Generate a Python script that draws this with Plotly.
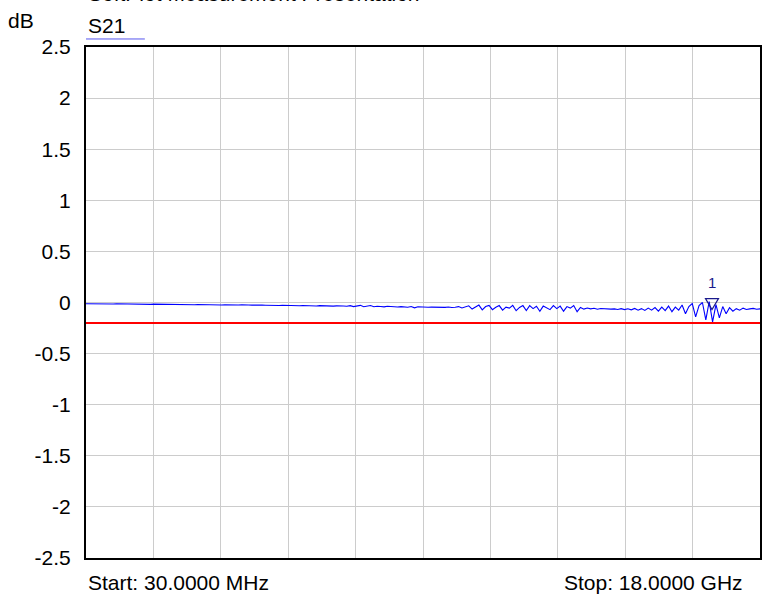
import numpy as np
import plotly.graph_objects as go

# ---- data ----
start_mhz = 30.0
stop_mhz = 18000.0
n_points = 200

s21_db = [
    -0.012,-0.013,-0.011,-0.012,-0.013,-0.012,-0.011,-0.013,-0.014,-0.012,
    -0.013,-0.015,-0.014,-0.016,-0.014,-0.015,-0.017,-0.015,-0.016,-0.018,
    -0.016,-0.017,-0.015,-0.018,-0.019,-0.017,-0.018,-0.020,-0.018,-0.021,
    -0.019,-0.020,-0.022,-0.020,
    -0.021,-0.023,-0.020,-0.024,-0.022,-0.021,-0.025,-0.022,-0.024,-0.023,
    -0.026,-0.024,-0.022,-0.027,-0.025,-0.026,-0.024,-0.028,-0.026,-0.027,
    -0.029,-0.026,-0.028,-0.030,-0.027,-0.029,-0.031,-0.028,-0.030,-0.032,
    -0.029,-0.031,-0.033,
    -0.030,-0.034,-0.031,-0.033,-0.036,-0.032,-0.035,-0.033,-0.037,-0.034,
    -0.036,-0.031,-0.040,-0.033,-0.028,-0.042,-0.035,-0.030,-0.041,-0.036,
    -0.039,-0.043,-0.037,-0.040,-0.038,-0.044,-0.040,-0.042,-0.046,-0.039,
    -0.052,-0.041,-0.045,
    -0.044,-0.046,-0.045,-0.047,-0.046,-0.045,-0.048,-0.044,-0.049,-0.046,
    -0.040,-0.054,-0.045,-0.032,-0.064,-0.044,-0.025,-0.072,-0.040,-0.028,
    -0.070,-0.047,-0.030,-0.075,-0.045,-0.055,-0.028,-0.080,-0.048,-0.030,
    -0.078,-0.030,-0.060,-0.036,-0.085,-0.035,
    -0.050,-0.070,-0.030,-0.060,-0.035,-0.085,-0.040,-0.055,-0.030,-0.090,
    -0.049,-0.065,-0.054,-0.062,-0.057,-0.066,-0.059,-0.063,-0.061,-0.065,
    -0.062,-0.068,-0.060,-0.070,-0.062,-0.072,-0.058,-0.075,-0.060,-0.078,
    -0.055,-0.075,-0.050,
    -0.085,-0.045,-0.080,-0.035,-0.090,-0.045,-0.075,-0.025,-0.110,-0.040,
    -0.010,-0.140,-0.030,0.000,-0.170,0.010,-0.190,-0.020,-0.150,-0.040,
    -0.110,-0.050,-0.085,-0.060,-0.075,-0.055,-0.068,-0.062,-0.058,-0.066,
    -0.062,
]

limit_db = -0.2
marker_freq_mhz = 16720.0
marker_db = -0.07
marker_label = "1"

y_tickvals = [2.5, 2, 1.5, 1, 0.5, 0, -0.5, -1, -1.5, -2, -2.5]
y_ticktext = ["2.5", "2", "1.5", "1", "0.5", "0", "-0.5", "-1", "-1.5", "-2", "-2.5"]
n_x_div = 10

freqs = np.linspace(start_mhz, stop_mhz, n_points)
x_grid = [start_mhz + k * (stop_mhz - start_mhz) / n_x_div for k in range(n_x_div + 1)]

FONT = "Liberation Sans, Arial, sans-serif"
FS = 21

fig = go.Figure()
fig.add_trace(go.Scatter(x=freqs, y=s21_db, mode="lines",
                         line=dict(color="#0000ff", width=1.1), hoverinfo="skip"))
fig.add_trace(go.Scatter(x=[start_mhz, stop_mhz], y=[limit_db, limit_db], mode="lines",
                         line=dict(color="#ff0000", width=2), hoverinfo="skip"))

# marker triangle (tip on the trace)
fig.add_shape(type="path", xref="x", yref="y", xsizemode="pixel", ysizemode="pixel",
              xanchor=marker_freq_mhz, yanchor=marker_db,
              path="M -6.5,11 L 6.5,11 L 0,0 Z",
              line=dict(color="#1a1a8c", width=1.2), fillcolor="rgba(0,0,0,0)")
fig.add_annotation(x=marker_freq_mhz, y=marker_db, xref="x", yref="y", text=marker_label,
                   showarrow=False, yshift=27, font=dict(family=FONT, size=15, color="#1a1a8c"))

fig.update_layout(
    width=768, height=603,
    margin=dict(l=86, r=6, t=47, b=45),
    paper_bgcolor="white", plot_bgcolor="white",
    showlegend=False,
    font=dict(family=FONT, size=FS, color="black"),
    xaxis=dict(range=[start_mhz, stop_mhz], tickvals=x_grid, showticklabels=False,
               showgrid=True, gridcolor="#cccccc", gridwidth=1, zeroline=False,
               showline=True, linecolor="black", linewidth=2, mirror=True, ticks=""),
    yaxis=dict(range=[-2.5, 2.5], tickvals=y_tickvals, ticktext=y_ticktext,
               showgrid=True, gridcolor="#cccccc", gridwidth=1, zeroline=False,
               showline=True, linecolor="black", linewidth=2, mirror=True, ticks="",
               ticklabelstandoff=9, tickfont=dict(size=FS)),
)

# texts
fig.add_annotation(xref="paper", yref="paper", x=0, y=1.0783, xanchor="left", yanchor="bottom",
                   text="SoftPlot Measurement Presentation", showarrow=False,
                   font=dict(size=FS))
fig.add_annotation(xref="paper", yref="paper", x=-0.1183, y=1.0528, xanchor="left", yanchor="middle",
                   text="dB", showarrow=False, font=dict(size=FS))
fig.add_annotation(xref="paper", yref="paper", x=0.0, y=1.0411, xanchor="left", yanchor="middle",
                   text="S21", showarrow=False, font=dict(size=FS))
fig.add_shape(type="line", xref="paper", yref="paper", x0=0.0, x1=0.0873, y0=1.0157, y1=1.0157,
              line=dict(color="#5555ee", width=1))
fig.add_annotation(xref="paper", yref="paper", x=0.0, y=-0.0470, xanchor="left", yanchor="middle",
                   text="Start: 30.0000 MHz", showarrow=False, font=dict(size=FS))
fig.add_annotation(xref="paper", yref="paper", x=0.9780, y=-0.0470, xanchor="right", yanchor="middle",
                   text="Stop: 18.0000 GHz", showarrow=False, font=dict(size=FS))

fig.write_html("out.html", config={"displayModeBar": False},
               post_script="document.body.style.margin='0px';document.body.style.overflow='hidden';")
